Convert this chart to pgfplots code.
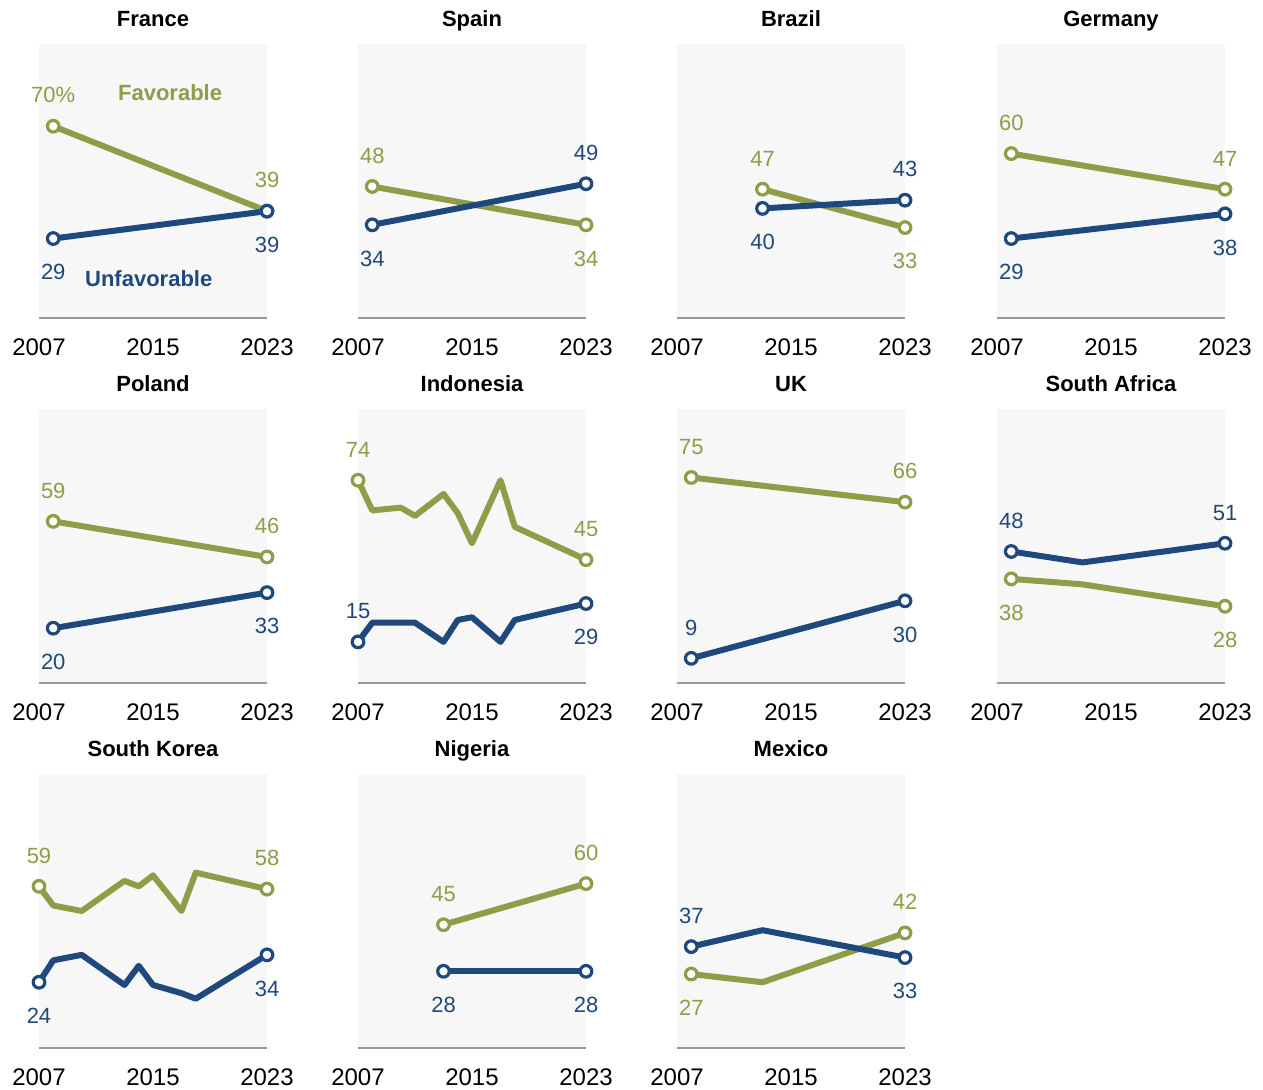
\documentclass[border=0pt]{standalone}
\usepackage{fontspec}
\setmainfont{Liberation Sans}
\usepackage{pgfplots}
\pgfplotsset{compat=1.18}
\definecolor{favc}{HTML}{8F9C48}
\definecolor{unfc}{HTML}{1F497D}
\definecolor{bgc}{HTML}{F7F7F7}
\definecolor{axc}{HTML}{999999}
\pgfplotsset{
 panel/.style={
  scale only axis, width=114pt, height=137pt,
  xmin=2007, xmax=2023, ymin=0, ymax=100,
  axis background/.style={fill=bgc},
  axis y line=none, axis x line*=bottom,
  x axis line style={draw=axc, line width=1pt, -},
  xtick={2007,2015,2023}, xticklabels={2007,2015,2023},
  major tick length=0pt,
  xticklabel style={anchor=base, yshift=-18.8pt, font=\fontsize{12}{14}\selectfont},
  clip=false, anchor=south west,
 },
 favline/.style={color=favc, line width=3pt, line join=round, mark=none},
 unfline/.style={color=unfc, line width=3pt, line join=round, mark=none},
 favmark/.style={only marks, mark=*, mark size=2.9pt, mark options={fill=white, draw=favc, line width=1.6pt}},
 unfmark/.style={only marks, mark=*, mark size=2.9pt, mark options={fill=white, draw=unfc, line width=1.6pt}},
}
\tikzset{
 labA/.style={anchor=base, yshift=11.6pt, font=\fontsize{11}{13}\selectfont, inner sep=0pt},
 labB/.style={anchor=base, yshift=-20.7pt, font=\fontsize{11}{13}\selectfont, inner sep=0pt},
 ttl/.style={anchor=base, yshift=8.6pt, font=\fontsize{11}{13}\selectfont\bfseries, inner sep=0pt},
}
\newcommand{\la}[4]{\node[labA,text=#1] at (axis cs:#2,#3) {#4};}
\newcommand{\lb}[4]{\node[labB,text=#1] at (axis cs:#2,#3) {#4};}
\newcommand{\panel}[8]{%
\begin{axis}[panel, at={(#1pt,#2pt)}]
\addplot[favline] coordinates {#4};
\addplot[favmark] coordinates {#5};
\addplot[unfline] coordinates {#6};
\addplot[unfmark] coordinates {#7};
\node[ttl] at (rel axis cs:0.5,1) {#3};
#8
\end{axis}}
\begin{document}
\begin{tikzpicture}
\useasboundingbox (0pt,0pt) rectangle (631.5pt,544.5pt);
% Row 1
\panel{19.5}{385.5}{France}
 {(2008,70) (2023,39)}{(2008,70) (2023,39)}
 {(2008,29) (2023,39)}{(2008,29) (2023,39)}
 {\la{favc}{2008}{70}{70\%}\la{favc}{2023}{39}{39}\lb{unfc}{2008}{29}{29}\lb{unfc}{2023}{39}{39}
  \node[text=favc, font=\fontsize{11}{13}\selectfont\bfseries] at (axis cs:2016.2,82.1) {Favorable};
  \node[text=unfc, font=\fontsize{11}{13}\selectfont\bfseries] at (axis cs:2014.7,14.2) {Unfavorable};}
\panel{179}{385.5}{Spain}
 {(2008,48) (2023,34)}{(2008,48) (2023,34)}
 {(2008,34) (2023,49)}{(2008,34) (2023,49)}
 {\la{favc}{2008}{48}{48}\lb{favc}{2023}{34}{34}\lb{unfc}{2008}{34}{34}\la{unfc}{2023}{49}{49}}
\panel{338.5}{385.5}{Brazil}
 {(2013,47) (2023,33)}{(2013,47) (2023,33)}
 {(2013,40) (2023,43)}{(2013,40) (2023,43)}
 {\la{favc}{2013}{47}{47}\lb{favc}{2023}{33}{33}\lb{unfc}{2013}{40}{40}\la{unfc}{2023}{43}{43}}
\panel{498.5}{385.5}{Germany}
 {(2008,60) (2023,47)}{(2008,60) (2023,47)}
 {(2008,29) (2023,38)}{(2008,29) (2023,38)}
 {\la{favc}{2008}{60}{60}\la{favc}{2023}{47}{47}\lb{unfc}{2008}{29}{29}\lb{unfc}{2023}{38}{38}}
% Row 2
\panel{19.5}{203}{Poland}
 {(2008,59) (2023,46)}{(2008,59) (2023,46)}
 {(2008,20) (2023,33)}{(2008,20) (2023,33)}
 {\la{favc}{2008}{59}{59}\la{favc}{2023}{46}{46}\lb{unfc}{2008}{20}{20}\lb{unfc}{2023}{33}{33}}
\panel{179}{203}{Indonesia}
 {(2007,74) (2008,63) (2010,64) (2011,61) (2013,69) (2014,62) (2015,51) (2017,74) (2018,57) (2023,45)}{(2007,74) (2023,45)}
 {(2007,15) (2008,22) (2010,22) (2011,22) (2013,15) (2014,23) (2015,24) (2017,15) (2018,23) (2023,29)}{(2007,15) (2023,29)}
 {\la{favc}{2007}{74}{74}\la{favc}{2023}{45}{45}\la{unfc}{2007}{15}{15}\lb{unfc}{2023}{29}{29}}
\panel{338.5}{203}{UK}
 {(2008,75) (2023,66)}{(2008,75) (2023,66)}
 {(2008,9) (2023,30)}{(2008,9) (2023,30)}
 {\la{favc}{2008}{75}{75}\la{favc}{2023}{66}{66}\la{unfc}{2008}{9}{9}\lb{unfc}{2023}{30}{30}}
\panel{498.5}{203}{South Africa}
 {(2008,38) (2013,36) (2023,28)}{(2008,38) (2023,28)}
 {(2008,48) (2013,44) (2023,51)}{(2008,48) (2023,51)}
 {\lb{favc}{2008}{38}{38}\lb{favc}{2023}{28}{28}\la{unfc}{2008}{48}{48}\la{unfc}{2023}{51}{51}}
% Row 3
\panel{19.5}{20.5}{South Korea}
 {(2007,59) (2008,52) (2010,50) (2013,61) (2014,59) (2015,63) (2017,50) (2018,64) (2023,58)}{(2007,59) (2023,58)}
 {(2007,24) (2008,32) (2010,34) (2013,23) (2014,30) (2015,23) (2017,20) (2018,18) (2023,34)}{(2007,24) (2023,34)}
 {\la{favc}{2007}{59}{59}\la{favc}{2023}{58}{58}\lb{unfc}{2007}{24}{24}\lb{unfc}{2023}{34}{34}}
\panel{179}{20.5}{Nigeria}
 {(2013,45) (2023,60)}{(2013,45) (2023,60)}
 {(2013,28) (2023,28)}{(2013,28) (2023,28)}
 {\la{favc}{2013}{45}{45}\la{favc}{2023}{60}{60}\lb{unfc}{2013}{28}{28}\lb{unfc}{2023}{28}{28}}
\panel{338.5}{20.5}{Mexico}
 {(2008,27) (2013,24) (2023,42)}{(2008,27) (2023,42)}
 {(2008,37) (2013,43) (2023,33)}{(2008,37) (2023,33)}
 {\lb{favc}{2008}{27}{27}\la{favc}{2023}{42}{42}\la{unfc}{2008}{37}{37}\lb{unfc}{2023}{33}{33}}
\end{tikzpicture}
\end{document}
